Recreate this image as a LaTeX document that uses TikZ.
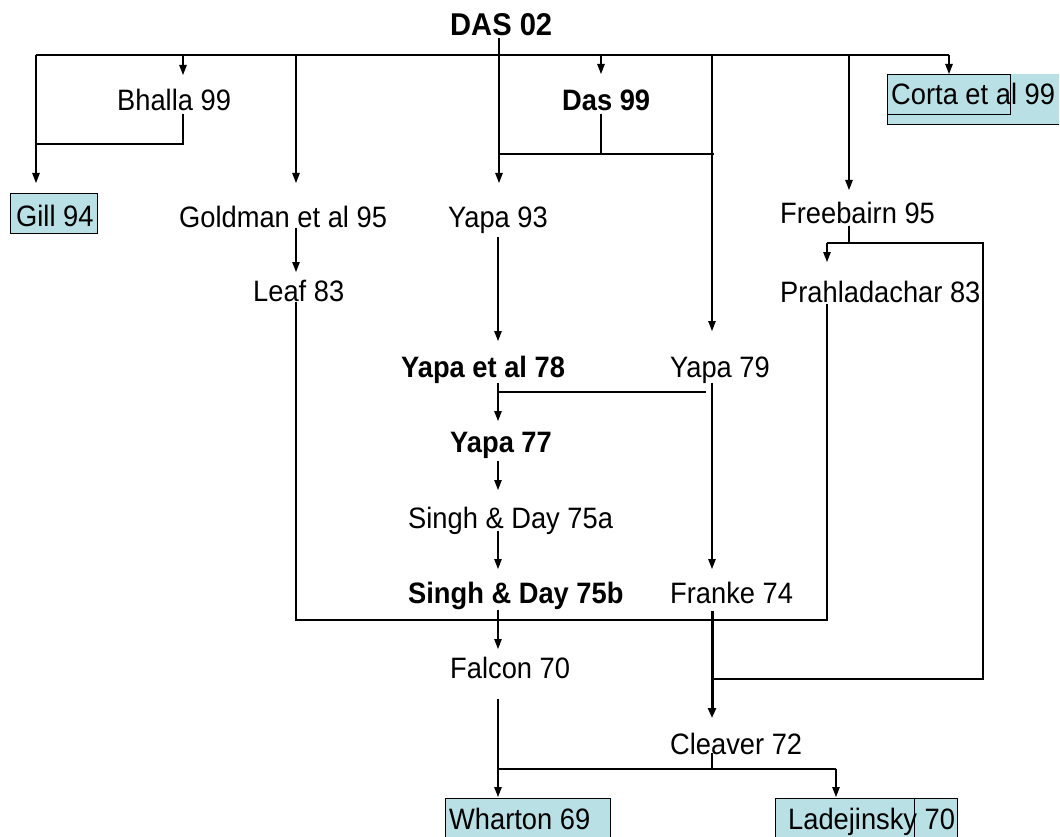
\documentclass[tikz,border=0pt]{standalone}
\usepackage{fontspec}
\setmainfont[FakeStretch=0.925]{Liberation Sans}
\usetikzlibrary{arrows.meta}
\definecolor{boxfill}{RGB}{185,224,228}
\begin{document}
\begin{tikzpicture}[x=1pt,y=-1pt,
  lbl/.style={anchor=base west,inner sep=0pt,font=\fontsize{29.5}{32}\selectfont},
  blbl/.style={anchor=base west,inner sep=0pt,font=\fontsize{29.5}{32}\selectfont\bfseries},
  ln/.style={line width=1.1pt,draw=black},
  arr/.style={ln,-{Triangle[length=10pt,width=7.5pt]}},
  heavyarr/.style={line width=3pt,draw=black,-{Triangle[length=10pt,width=8pt]}},
  bx/.style={fill=boxfill,draw=black,line width=0.9pt}]
\useasboundingbox (0,0) rectangle (1060,837);
\fill[white] (0,0) rectangle (1060,837);

% coloured boxes
\path[bx] (10,193) rectangle (97,233);
\fill[boxfill] (887,74) rectangle (1059,124);
\draw[line width=0.9pt] (887,74) rectangle (1010,114);
\draw[line width=0.9pt] (887,114) -- (887,124) -- (1059,124);
\path[bx] (445,798) rectangle (610,850);
\path[bx] (775,798) rectangle (957,850);
\draw[line width=0.9pt] (914,798) -- (914,840);

% labels
\node[anchor=base west,inner sep=0pt,font=\fontsize{31.5}{34}\selectfont\bfseries] (das02) at (450,36) {DAS 02};
\node[lbl]  (bhalla)  at (117,111) {Bhalla 99};
\node[blbl] (das99)   at (562,111) {Das 99};
\node[lbl]  (corta)   at (891,105) {Corta et al 99};
\node[lbl]  (gill)    at (16,226)  {Gill 94};
\node[lbl]  (goldman) at (179,227) {Goldman et al 95};
\node[lbl]  (yapa93)  at (448,227) {Yapa 93};
\node[lbl]  (freeb)   at (780,224) {Freebairn 95};
\node[lbl]  (leaf)    at (253,301) {Leaf 83};
\node[lbl]  (prahl)   at (780,302) {Prahladachar 83};
\node[blbl] (yapa78)  at (401,377) {Yapa et al 78};
\node[lbl]  (yapa79)  at (670,377) {Yapa 79};
\node[blbl] (yapa77)  at (450,452) {Yapa 77};
\node[lbl]  (singha)  at (408,528) {Singh \& Day 75a};
\node[blbl] (singhb)  at (408,603) {Singh \& Day 75b};
\node[lbl]  (franke)  at (670,603) {Franke 74};
\node[lbl]  (falcon)  at (450,678) {Falcon 70};
\node[lbl]  (cleaver) at (670,754) {Cleaver 72};
\node[lbl]  (wharton) at (449,829) {Wharton 69};
\node[lbl]  (ladej)   at (788,829) {Ladejinsky 70};

% junction coordinates
\coordinate (busL) at (36,55);
\coordinate (busR) at (949,55);
\coordinate (dasS) at (499,38);
\coordinate (gillT) at (36,183);
\coordinate (bhTop) at (183,55);
\coordinate (bhT) at (183,75);
\coordinate (bhS) at (183,114);
\coordinate (bhJ) at (183,144);
\coordinate (gillJ) at (36,144);
\coordinate (goldTop) at (296,55);
\coordinate (goldT) at (296,183);
\coordinate (y93T) at (499,183);
\coordinate (d99Top) at (601,55);
\coordinate (d99T) at (601,74);
\coordinate (d99S) at (601,114);
\coordinate (d99J) at (601,154);
\coordinate (d99L) at (499,154);
\coordinate (d99R) at (714,154);
\coordinate (y79Top) at (712,55);
\coordinate (y79T) at (712,331);
\coordinate (frTop) at (849,55);
\coordinate (frT) at (849,190);
\coordinate (coT) at (949,74);
\coordinate (goldS) at (296,228);
\coordinate (leafT) at (296,272);
\coordinate (leafS) at (296,302);
\coordinate (leafB) at (296,620);
\coordinate (prB) at (827,620);
\coordinate (prS) at (827,304);
\coordinate (frS) at (849,226);
\coordinate (frJ) at (849,243);
\coordinate (frL) at (827,243);
\coordinate (prT) at (827,262);
\coordinate (frR) at (983,243);
\coordinate (frRB) at (983,679);
\coordinate (frE) at (713,679);
\coordinate (y93S) at (498,237);
\coordinate (y78T) at (498,341);
\coordinate (y78S) at (498,383);
\coordinate (y77T) at (498,421);
\coordinate (y79L) at (498,392);
\coordinate (y79J) at (706,392);
\coordinate (y79S) at (712,383);
\coordinate (frkT) at (712,569);
\coordinate (y77S) at (498,461);
\coordinate (saT) at (498,490);
\coordinate (saS) at (498,531);
\coordinate (sbT) at (498,569);
\coordinate (sbS) at (498,610);
\coordinate (faT) at (498,649);
\coordinate (faS) at (498,699);
\coordinate (whT) at (498,797);
\coordinate (frkS) at (712,611);
\coordinate (clT) at (712,718);
\coordinate (clS) at (712,753);
\coordinate (clJ) at (712,769);
\coordinate (clL) at (498,769);
\coordinate (clR) at (836,769);
\coordinate (ldT) at (836,797);

% top bus
\draw[ln] (busL) -- (busR);
\draw[arr] (dasS) -- (y93T);
\draw[arr] (busL) -- (gillT);
\draw[arr] (bhTop) -- (bhT);
\draw[arr] (goldTop) -- (goldT);
\draw[arr] (d99Top) -- (d99T);
\draw[arr] (y79Top) -- (y79T);
\draw[arr] (frTop) -- (frT);
\draw[arr] (busR) -- (coT);

% Bhalla -> Gill
\draw[ln] (bhS) -- (bhJ) -- (gillJ);
% Das 99 -> Yapa 93 / Yapa 79
\draw[ln] (d99S) -- (d99J);
\draw[ln] (d99L) -- (d99R);
% Goldman -> Leaf
\draw[arr] (goldS) -- (leafT);
% Leaf / Prahladachar -> Falcon
\draw[ln] (leafS) -- (leafB) -- (prB) -- (prS);
% Freebairn -> Prahladachar, and -> Cleaver
\draw[ln] (frS) -- (frJ);
\draw[ln] (frL) -- (frR) -- (frRB) -- (frE);
\draw[arr] (frL) -- (prT);
% central chain
\draw[arr] (y93S) -- (y78T);
\draw[arr] (y78S) -- (y77T);
\draw[ln] (y79L) -- (y79J);
\draw[arr] (y79S) -- (frkT);
\draw[arr] (y77S) -- (saT);
\draw[arr] (saS) -- (sbT);
\draw[arr] (sbS) -- (faT);
\draw[arr] (faS) -- (whT);
\draw[heavyarr] (frkS) -- (clT);
% Cleaver -> Wharton / Ladejinsky
\draw[ln] (clS) -- (clJ);
\draw[ln] (clL) -- (clR);
\draw[arr] (clR) -- (ldT);
\end{tikzpicture}
\end{document}
